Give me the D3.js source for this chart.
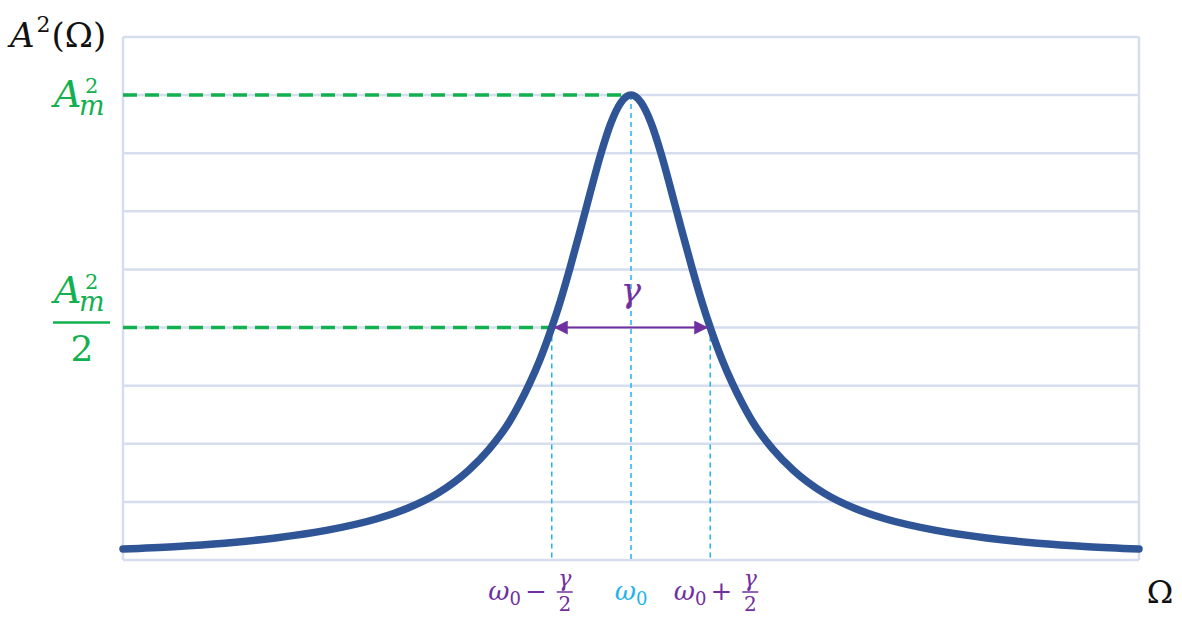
<!DOCTYPE html>
<html>
<head>
<meta charset="utf-8">
<script src="https://cdn.jsdelivr.net/npm/d3@7"></script>
<style>
  html, body { margin: 0; padding: 0; background: #fff; }
  svg { display: block; }
  .math { font-family: "DejaVu Serif", "Liberation Serif", serif; }
</style>
</head>
<body>
<svg width="1182" height="617"></svg>
<script>
// resonance curve (Omega in arbitrary units, A^2 in grid units)
const omega = [0, 5, 10, 15, 20, 25, 28, 31, 34, 36, 38, 39, 40, 41, 42.2, 43, 44, 45, 46, 47, 48, 49, 50,
               51, 52, 53, 54, 55, 56, 57, 57.8, 59, 60, 61, 62, 64, 66, 69, 72, 75, 80, 85, 90, 95, 100];
const amp2 = [0.19, 0.23, 0.29, 0.38, 0.51, 0.71, 0.89, 1.15, 1.54, 1.90, 2.37, 2.68, 3.03, 3.43, 4.0, 4.43, 5.03, 5.67, 6.33, 6.97, 7.51, 7.87, 8.0,
              7.87, 7.51, 6.97, 6.33, 5.67, 5.03, 4.43, 4.0, 3.43, 3.03, 2.68, 2.37, 1.90, 1.54, 1.15, 0.89, 0.71, 0.51, 0.38, 0.29, 0.23, 0.19];
const gridLevels = [0, 1, 2, 3, 4, 5, 6, 7, 8, 9];
const peak = { omega: 50, value: 8 };
const halfWidth = 7.8;   // gamma / 2

const purple = "#7030a0";
const green = "#12b04f";
const cyan = "#1fb4ec";

// chart frame
const margin = { top: 37, right: 43, bottom: 57, left: 123 };
const width = 1182 - margin.left - margin.right;
const height = 617 - margin.top - margin.bottom;

const x = d3.scaleLinear().domain([0, 100]).range([0, width]);
const y = d3.scaleLinear().domain([0, 9]).range([height, 0]);

const svg = d3.select("svg");
const g = svg.append("g")
  .attr("transform", "translate(" + margin.left + "," + margin.top + ")");

// horizontal grid lines
g.append("g")
  .selectAll("line")
  .data(gridLevels)
  .enter()
  .append("line")
  .attr("x1", 0)
  .attr("x2", width)
  .attr("y1", d => y(d))
  .attr("y2", d => y(d))
  .attr("stroke", "#d6ddef")
  .attr("stroke-width", 2.5);

// frame sides
[0, 100].forEach(v => {
  g.append("line")
    .attr("x1", x(v)).attr("x2", x(v))
    .attr("y1", y(9)).attr("y2", y(0))
    .attr("stroke", "#d6ddef").attr("stroke-width", 2.5);
});

// vertical cyan markers
const marks = [
  { w: peak.omega - halfWidth, v: peak.value / 2 },
  { w: peak.omega, v: peak.value },
  { w: peak.omega + halfWidth, v: peak.value / 2 }
];
g.append("g")
  .selectAll("line")
  .data(marks)
  .enter()
  .append("line")
  .attr("x1", d => x(d.w))
  .attr("x2", d => x(d.w))
  .attr("y1", d => y(d.v))
  .attr("y2", y(0))
  .attr("stroke", cyan)
  .attr("stroke-width", 1.5)
  .attr("stroke-dasharray", "5,4");

// green dashed level lines
const levels = [
  { to: peak.omega, v: peak.value },
  { to: peak.omega - halfWidth, v: peak.value / 2 }
];
g.append("g")
  .selectAll("line")
  .data(levels)
  .enter()
  .append("line")
  .attr("x1", 0)
  .attr("x2", d => x(d.to))
  .attr("y1", d => y(d.v))
  .attr("y2", d => y(d.v))
  .attr("stroke", green)
  .attr("stroke-width", 3.5)
  .attr("stroke-dasharray", "14,8");

// the curve
const line = d3.line()
  .curve(d3.curveMonotoneX)
  .x((d, i) => x(omega[i]))
  .y(d => y(d));

g.append("path")
  .datum(amp2)
  .attr("d", line)
  .attr("fill", "none")
  .attr("stroke", "#2f5597")
  .attr("stroke-width", 7.5)
  .attr("stroke-linecap", "round");

// gamma arrow
svg.append("defs").append("marker")
  .attr("id", "head")
  .attr("viewBox", "0 0 10 10")
  .attr("refX", 10).attr("refY", 5)
  .attr("markerWidth", 16).attr("markerHeight", 14)
  .attr("markerUnits", "userSpaceOnUse")
  .attr("orient", "auto-start-reverse")
  .append("path")
  .attr("d", "M0,0 L10,5 L0,10 Z")
  .attr("fill", purple);

g.append("line")
  .attr("x1", x(peak.omega - halfWidth) + 2)
  .attr("x2", x(peak.omega + halfWidth) - 2)
  .attr("y1", y(peak.value / 2))
  .attr("y2", y(peak.value / 2))
  .attr("stroke", purple)
  .attr("stroke-width", 2)
  .attr("marker-start", "url(#head)")
  .attr("marker-end", "url(#head)");

g.append("text")
  .attr("class", "math")
  .attr("x", x(peak.omega))
  .attr("y", y(peak.value / 2) - 26)
  .attr("text-anchor", "middle")
  .attr("font-size", 34)
  .attr("font-style", "italic")
  .attr("fill", purple)
  .text("γ");

// y axis title
const yTitle = svg.append("text")
  .attr("class", "math")
  .attr("x", 10)
  .attr("y", 47)
  .attr("font-size", 34)
  .attr("fill", "#111");
yTitle.append("tspan").attr("font-style", "italic").text("A");
yTitle.append("tspan").attr("font-size", 22).attr("dy", -15).attr("dx", 2).text("2");
yTitle.append("tspan").attr("dy", 15).attr("dx", 1).text("(Ω)");

// A_m^2 label: A, then superscript 2 stacked over subscript m
function amLabel(left, base) {
  svg.append("text")
    .attr("class", "math")
    .attr("x", left)
    .attr("y", base)
    .attr("font-size", 38)
    .attr("font-style", "italic")
    .attr("fill", green)
    .text("A");
  svg.append("text")
    .attr("class", "math")
    .attr("x", left + 31)
    .attr("y", base - 14)
    .attr("font-size", 21)
    .attr("fill", green)
    .text("2");
  svg.append("text")
    .attr("class", "math")
    .attr("x", left + 25)
    .attr("y", base + 8)
    .attr("font-size", 27)
    .attr("font-style", "italic")
    .attr("fill", green)
    .text("m");
}
amLabel(54, margin.top + y(peak.value) + 12);
const barY = margin.top + y(peak.value / 2) - 5;
amLabel(54, barY - 20);
svg.append("line")
  .attr("x1", 53).attr("x2", 110)
  .attr("y1", barY).attr("y2", barY)
  .attr("stroke", green).attr("stroke-width", 2.5);
svg.append("text")
  .attr("class", "math")
  .attr("x", 82)
  .attr("y", barY + 38)
  .attr("text-anchor", "middle")
  .attr("font-size", 36)
  .attr("fill", green)
  .text("2");

// x axis labels
const xLab = svg.append("g")
  .attr("class", "math")
  .attr("transform", "translate(" + margin.left + "," + (margin.top + height) + ")");

function omegaZero(t) {
  t.append("tspan").attr("font-style", "italic").text("ω");
  t.append("tspan").attr("font-size", 18).attr("dy", 5).text("0");
}

// w0 -/+ gamma/2, fraction offset from its marker as in the picture
[[-1, "−", 13], [1, "+", 40]].forEach(([s, sign, off]) => {
  const fc = x(peak.omega + s * halfWidth) + off;
  const t = xLab.append("text")
    .attr("x", fc - 18)
    .attr("y", 40)
    .attr("text-anchor", "end")
    .attr("font-size", 26)
    .attr("fill", purple);
  omegaZero(t);
  t.append("tspan").attr("dy", -5).attr("dx", 4).text(sign);
  xLab.append("text")
    .attr("x", fc)
    .attr("y", 26)
    .attr("text-anchor", "middle")
    .attr("font-size", 22)
    .attr("font-style", "italic")
    .attr("fill", purple)
    .text("γ");
  xLab.append("line")
    .attr("x1", fc - 8).attr("x2", fc + 8)
    .attr("y1", 32).attr("y2", 32)
    .attr("stroke", purple).attr("stroke-width", 1.5);
  xLab.append("text")
    .attr("x", fc)
    .attr("y", 51)
    .attr("text-anchor", "middle")
    .attr("font-size", 20)
    .attr("fill", purple)
    .text("2");
});

const mid = xLab.append("text")
  .attr("x", x(peak.omega))
  .attr("y", 40)
  .attr("text-anchor", "middle")
  .attr("font-size", 26)
  .attr("fill", cyan);
omegaZero(mid);

svg.append("text")
  .attr("class", "math")
  .attr("x", 1160)
  .attr("y", 603)
  .attr("text-anchor", "middle")
  .attr("font-size", 32)
  .attr("fill", "#111")
  .text("Ω");
</script>
</body>
</html>
